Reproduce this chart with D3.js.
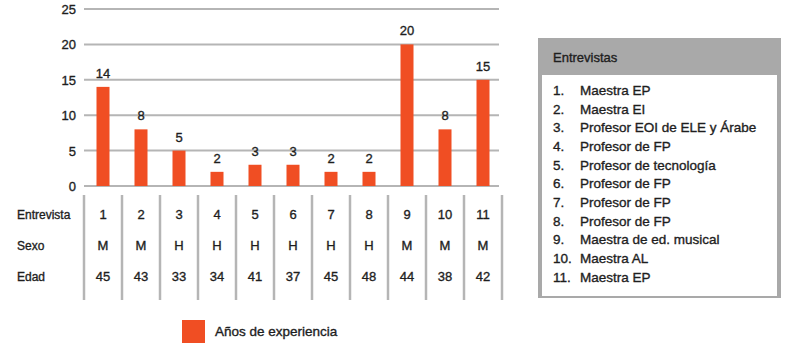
<!DOCTYPE html>
<html>
<head>
<meta charset="utf-8">
<script src="https://cdn.jsdelivr.net/npm/d3@7"></script>
<style>
  body { margin: 0; background: #fff; }
  svg text { font-family: "Liberation Sans", Arial, sans-serif; fill: #1e1e1e; stroke: #1e1e1e; stroke-width: 0.35px; }
</style>
</head>
<body>
<div id="chart"></div>
<script>
// datos
const entrevistas = ["1","2","3","4","5","6","7","8","9","10","11"];
const anios = [14, 8, 5, 2, 3, 3, 2, 2, 20, 8, 15];
const sexo = ["M","M","H","H","H","H","H","H","M","M","M"];
const edad = [45, 43, 33, 34, 41, 37, 45, 48, 44, 38, 42];
const puestos = ["Maestra EP","Maestra EI","Profesor EOI de ELE y Árabe","Profesor de FP",
  "Profesor de tecnología","Profesor de FP","Profesor de FP","Profesor de FP",
  "Maestra de ed. musical","Maestra AL","Maestra EP"];
const yTicks = [0, 5, 10, 15, 20, 25];

const naranja = "#f04e23";
const gris = "#b5b5b5";

const svg = d3.select("#chart").append("svg")
  .attr("width", 798).attr("height", 351);

// escalas
const x = d3.scaleBand().domain(entrevistas).range([84, 502]).paddingInner(0).paddingOuter(0);
const y = d3.scaleLinear().domain([0, 25]).range([186, 9]);

// grilla
svg.append("g").selectAll("line").data(yTicks).join("line")
  .attr("x1", 84).attr("x2", 499)
  .attr("y1", d => y(d)).attr("y2", d => y(d))
  .attr("stroke", gris).attr("stroke-width", 2);

svg.append("g").selectAll("text").data(yTicks).join("text")
  .attr("x", 76).attr("y", d => y(d) + 5)
  .attr("text-anchor", "end").attr("font-size", 13)
  .text(d => d);

// barras
const barW = 13;
svg.append("g").selectAll("rect").data(anios).join("rect")
  .attr("x", (d, i) => x(entrevistas[i]) + x.bandwidth() / 2 - barW / 2)
  .attr("y", d => y(d))
  .attr("width", barW)
  .attr("height", d => y(0) - y(d))
  .attr("fill", naranja);

svg.append("g").selectAll("text").data(anios).join("text")
  .attr("x", (d, i) => x(entrevistas[i]) + x.bandwidth() / 2)
  .attr("y", d => y(d) - 9)
  .attr("text-anchor", "middle").attr("font-size", 13)
  .text(d => d);

// tabla debajo
const seps = entrevistas.map(e => x(e)).concat([x.range()[1]]);
svg.append("g").selectAll("line").data(seps).join("line")
  .attr("x1", d => d).attr("x2", d => d)
  .attr("y1", 195).attr("y2", 300)
  .attr("stroke", gris).attr("stroke-width", 2.5);

const filas = [
  { nombre: "Entrevista", valores: entrevistas, y: 219 },
  { nombre: "Sexo", valores: sexo, y: 250 },
  { nombre: "Edad", valores: edad, y: 281 }
];
filas.forEach(f => {
  svg.append("text").attr("x", 17).attr("y", f.y).attr("font-size", 12).text(f.nombre);
  svg.append("g").selectAll("text").data(f.valores).join("text")
    .attr("x", (d, i) => x(entrevistas[i]) + x.bandwidth() / 2)
    .attr("y", f.y)
    .attr("text-anchor", "middle").attr("font-size", 13)
    .text(d => d);
});

// leyenda
svg.append("rect").attr("x", 182).attr("y", 320).attr("width", 23).attr("height", 23).attr("fill", naranja);
svg.append("text").attr("x", 215).attr("y", 336).attr("font-size", 13.5).text("Años de experiencia");

// cuadro de entrevistas
const box = svg.append("g");
box.append("rect").attr("x", 538).attr("y", 38).attr("width", 243).attr("height", 260).attr("fill", "#a9a9a9");
box.append("rect").attr("x", 542).attr("y", 75).attr("width", 235).attr("height", 221).attr("fill", "#fff");
box.append("text").attr("x", 553).attr("y", 62).attr("font-size", 13).text("Entrevistas");
box.append("g").selectAll("text").data(puestos).join("text")
  .attr("x", 553).attr("y", (d, i) => 95 + i * 18.67)
  .attr("font-size", 13.5)
  .text((d, i) => (i + 1) + ".");
box.append("g").selectAll("text").data(puestos).join("text")
  .attr("x", 580).attr("y", (d, i) => 95 + i * 18.67)
  .attr("font-size", 13.5)
  .text(d => d);
</script>
</body>
</html>
